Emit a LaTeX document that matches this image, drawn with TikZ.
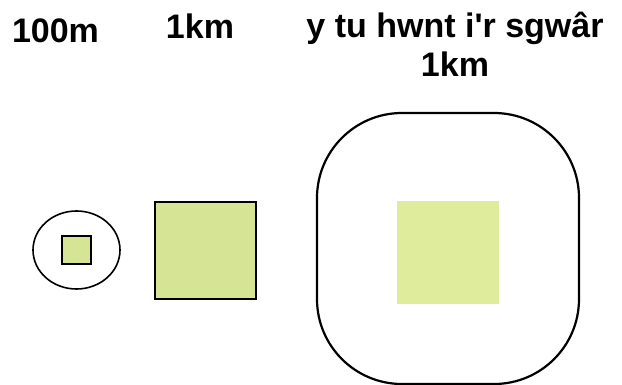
\documentclass[tikz,border=0pt]{standalone}
\usepackage{fontspec}
\setmainfont{Liberation Sans}[Ligatures=TeXOff]
\usetikzlibrary{shapes.geometric}
\definecolor{tilegreen}{RGB}{214,228,150}
\definecolor{palegreen}{RGB}{222,236,155}
\tikzset{
  label text/.style={font=\fontsize{34}{39}\selectfont\bfseries,inner sep=0pt,anchor=base,align=center},
  tile/.style={draw,line width=2pt,fill=tilegreen,inner sep=0pt},
  halo/.style={draw,line width=1.6pt,inner sep=0pt}
}
\begin{document}
\begin{tikzpicture}[x=1pt,y=-1pt]
  \useasboundingbox (0,0) rectangle (622,385);
  % labels
  \node[label text] (lblsmall) at (55.5,43) {100m};
  \node[label text] (lblmid) at (200,39) {1km};
  \node[label text] (lblbig) at (455,77) {y tu hwnt i'r sgwâr\\1km};
  % 100m square in its circle
  \node[halo,ellipse,minimum width=87pt,minimum height=78pt] (ring) at (76.5,250) {};
  \node[tile,minimum width=29pt,minimum height=28pt] (smallsq) at (ring.center) {};
  % 1km square
  \node[tile,minimum width=101pt,minimum height=97pt] (midsq) at (205.5,250.5) {};
  % 1km square with its surround
  \node[draw,line width=2.2pt,rounded corners=85pt,minimum width=262pt,minimum height=271pt,inner sep=0pt] (surround) at (448,248.5) {};
  \node[fill=palegreen,minimum width=102pt,minimum height=103pt,inner sep=0pt] (bigsq) at (448,252.5) {};
\end{tikzpicture}
\end{document}
